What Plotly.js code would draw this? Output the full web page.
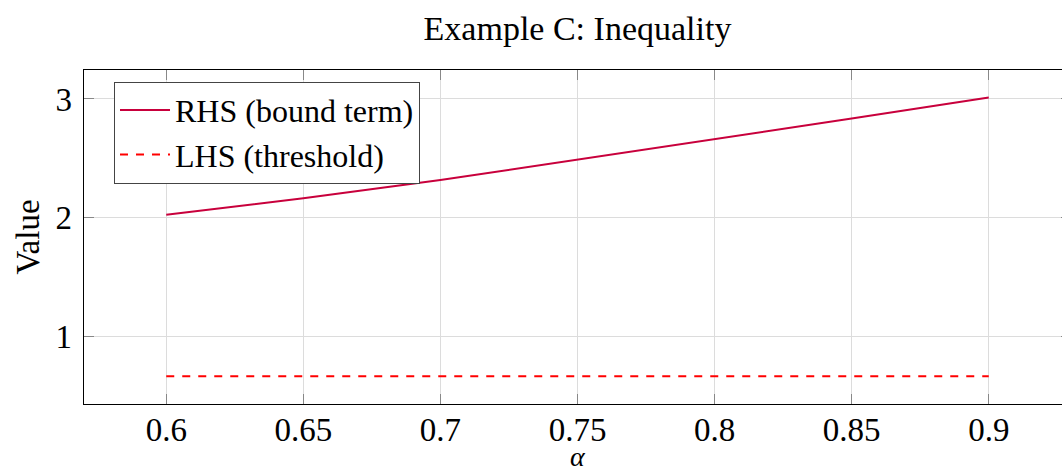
<!DOCTYPE html>
<html>
<head>
<meta charset="utf-8">
<script src="https://cdn.plot.ly/plotly-3.0.1.min.js"></script>
<style>
html, body { margin: 0; padding: 0; overflow: hidden; background: #fff; }
#chart { width: 1080px; height: 473px; }
</style>
</head>
<body>
<div id="chart"></div>
<script>
// Data
const alpha = [0.6, 0.65, 0.7, 0.75, 0.8, 0.85, 0.9];
const rhsBound = [2.025, 2.165, 2.318, 2.49, 2.66, 2.835, 3.012];
const lhsThreshold = [0.667, 0.667, 0.667, 0.667, 0.667, 0.667, 0.667];
const xTicks = [0.6, 0.65, 0.7, 0.75, 0.8, 0.85, 0.9];
const xTickLabels = ['0.6', '0.65', '0.7', '0.75', '0.8', '0.85', '0.9'];
const yTicks = [1, 2, 3];
const yTickLabels = ['1', '2', '3'];

const FONT = 'Liberation Serif, DejaVu Serif, serif';

const traces = [
  {
    x: alpha, y: rhsBound, mode: 'lines', name: 'RHS (bound term)',
    line: { color: 'rgb(200,0,60)', width: 2 }
  },
  {
    x: alpha, y: lhsThreshold, mode: 'lines', name: 'LHS (threshold)',
    line: { color: 'rgb(255,0,0)', width: 2, dash: '8px,8px' }
  }
];

const layout = {
  width: 1080, height: 473,
  margin: { l: 84, r: 9, t: 70, b: 69 },
  paper_bgcolor: '#fff', plot_bgcolor: '#fff',
  font: { family: FONT, size: 33, color: '#000' },
  title: {
    text: 'Example C: Inequality',
    font: { family: FONT, size: 34, color: '#000' },
    x: 0.5, xref: 'paper', xanchor: 'center',
    y: 1 - 28 / 473, yref: 'container', yanchor: 'middle'
  },
  xaxis: {
    range: [0.57, 0.93],
    tickvals: xTicks, ticktext: xTickLabels,
    ticks: 'inside', ticklen: 10, tickcolor: '#888', tickwidth: 1,
    showline: true, linecolor: '#000', linewidth: 1.3, mirror: 'ticks',
    showgrid: true, gridcolor: '#dcdcdc', gridwidth: 1,
    zeroline: false,
    ticklabelstandoff: -4,
    tickfont: { family: FONT, size: 33, color: '#000' }
  },
  yaxis: {
    range: [0.433, 3.244],
    tickvals: yTicks, ticktext: yTickLabels,
    ticks: 'inside', ticklen: 10, tickcolor: '#888', tickwidth: 1,
    showline: true, linecolor: '#000', linewidth: 1.3, mirror: 'ticks',
    showgrid: true, gridcolor: '#dcdcdc', gridwidth: 1,
    zeroline: false,
    ticklabelstandoff: 4,
    tickfont: { family: FONT, size: 33, color: '#000' },
    title: { text: 'Value', font: { family: FONT, size: 33, color: '#000' }, standoff: 6 }
  },
  annotations: [
    {
      text: '<i>α</i>', xref: 'paper', yref: 'paper',
      x: 0.5, y: (404 - 473) / 335, xanchor: 'center', yanchor: 'bottom',
      borderpad: 0,
      showarrow: false, font: { family: FONT, size: 28, color: '#000' }
    }
  ],
  showlegend: true,
  legend: {
    x: 0.0304, y: 0.965, xanchor: 'left', yanchor: 'top',
    bgcolor: '#fff', bordercolor: '#444', borderwidth: 1,
    font: { family: FONT, size: 32, color: '#000' },
    itemwidth: 50, tracegroupgap: 0
  }
};

Plotly.newPlot('chart', traces, layout, { displayModeBar: false, staticPlot: true });
</script>
</body>
</html>
